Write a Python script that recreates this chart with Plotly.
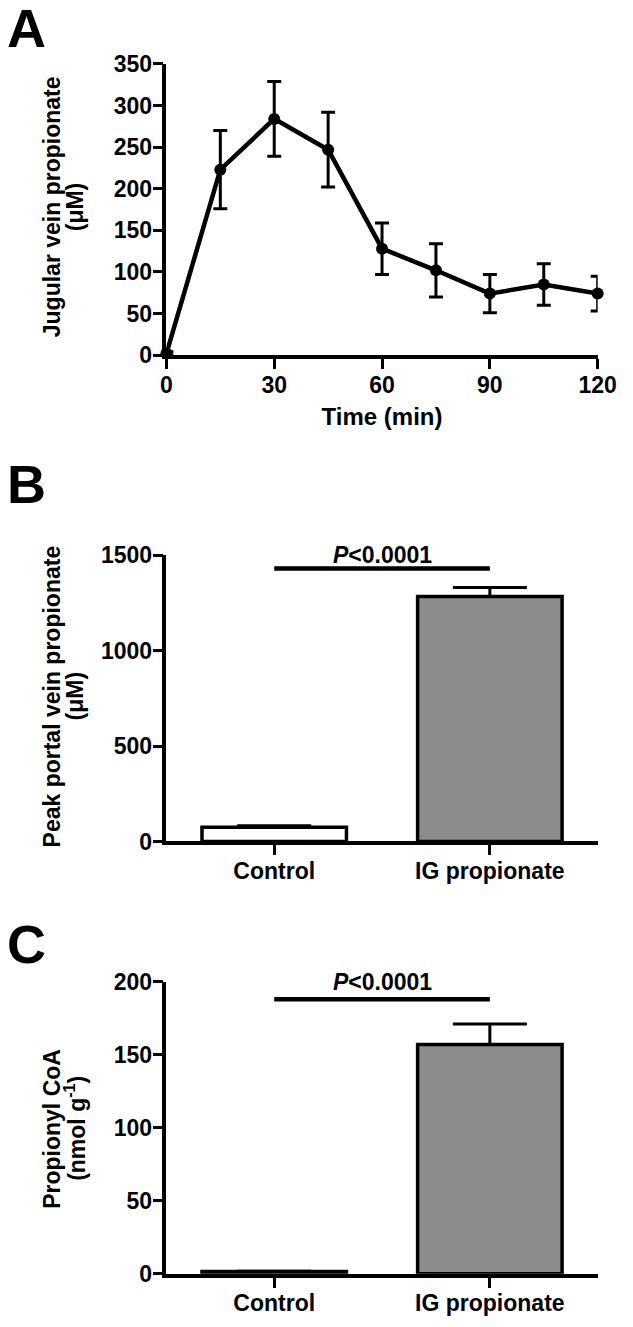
import plotly.graph_objects as go

# Panel A: jugular vein propionate time course (mean +/- SEM)
time_min = [0, 15, 30, 45, 60, 75, 90, 105, 120]
jugular = [2, 223, 284, 247, 128, 102, 74, 85, 74]
jugular_sem = [2, 47, 45, 45, 31, 32, 23, 25, 21]

# Panels B and C: bar charts
groups = ["Control", "IG propionate"]
portal_peak = [74, 1283]
portal_sem = [8, 48]
portal_sig_y = 1430
propionyl_coa = [1.5, 157]
propionyl_sem = [0.3, 14]
coa_sig_y = 188
p_text = "<i>P</i>&lt;0.0001"
bar_colors = ["white", "#8c8c8c"]

W, H = 633, 1327
FONT = "Liberation Sans"


def px_x(x):
    return x / W


def px_y(y):
    return 1 - y / H


fig = go.Figure()

# panel A
fig.add_trace(go.Scatter(
    x=time_min, y=jugular, mode="lines+markers",
    line=dict(color="black", width=4.5),
    marker=dict(color="black", size=12),
    error_y=dict(type="data", array=jugular_sem, color="black", thickness=3, width=7),
    cliponaxis=False, xaxis="x", yaxis="y", showlegend=False))

# panel B
fig.add_trace(go.Bar(
    x=groups, y=portal_peak, width=0.67,
    marker=dict(color=bar_colors, line=dict(color="black", width=3.5)),
    error_y=dict(type="data", symmetric=False, array=portal_sem, arrayminus=[0, 0],
                 color="black", thickness=3, width=37),
    cliponaxis=False, xaxis="x2", yaxis="y2", showlegend=False))
fig.add_trace(go.Scatter(
    x=groups, y=[portal_sig_y, portal_sig_y], mode="lines",
    line=dict(color="black", width=4.5),
    xaxis="x2", yaxis="y2", showlegend=False, cliponaxis=False))

# panel C
fig.add_trace(go.Bar(
    x=groups, y=propionyl_coa, width=0.67,
    marker=dict(color=bar_colors, line=dict(color="black", width=3.5)),
    error_y=dict(type="data", symmetric=False, array=propionyl_sem, arrayminus=[0, 0],
                 color="black", thickness=3, width=37),
    cliponaxis=False, xaxis="x3", yaxis="y3", showlegend=False))
fig.add_trace(go.Scatter(
    x=groups, y=[coa_sig_y, coa_sig_y], mode="lines",
    line=dict(color="black", width=4.5),
    xaxis="x3", yaxis="y3", showlegend=False, cliponaxis=False))

xdom = [px_x(167), px_x(616)]


def ydom(bottom_px, top_px):
    return [px_y(bottom_px), px_y(top_px)]


axis_style = dict(
    showline=True, linecolor="black", linewidth=3.5,
    ticks="outside", ticklen=10, tickwidth=3, tickcolor="black",
    showgrid=False, zeroline=False, ticklabeloverflow="allow",
    ticklabelstandoff=-4,
    tickfont=dict(family=FONT, size=23, color="black", weight="bold"),
)

fig.update_layout(
    width=W, height=H, autosize=False,
    margin=dict(l=0, r=0, t=0, b=0),
    paper_bgcolor="white", plot_bgcolor="white",
    xaxis=dict(domain=xdom, anchor="y", range=[0, 120], tickvals=[0, 30, 60, 90, 120],
               title=dict(text="Time (min)", standoff=13,
                          font=dict(family=FONT, size=24, color="black", weight="bold")),
               **axis_style),
    yaxis=dict(domain=ydom(349, 52), anchor="x", range=[0, 350], dtick=50, **axis_style),
    xaxis2=dict(domain=xdom, anchor="y2", type="category", range=[-0.5, 1.5], **axis_style),
    yaxis2=dict(domain=ydom(845, 553), anchor="x2", range=[0, 1500], dtick=500, **axis_style),
    xaxis3=dict(domain=xdom, anchor="y3", type="category", range=[-0.5, 1.5], **axis_style),
    yaxis3=dict(domain=ydom(1286, 988), anchor="x3", range=[0, 200], dtick=50, **axis_style),
)

title_font = dict(family=FONT, size=23, color="black", weight="bold")
ytitles = [
    ("Jugular vein propionate", "(μM)", 198),
    ("Peak portal vein propionate", "(μM)", 697),
    ("Propionyl CoA", "(nmol g<sup>-1</sup>)", 1138),
]
for line1, line2, ypx in ytitles:
    for text, xpx in [(line1, 48), (line2, 72)]:
        fig.add_annotation(text=text, textangle=-90, xref="paper", yref="paper",
                           x=px_x(xpx), y=px_y(ypx), xanchor="center", yanchor="middle",
                           showarrow=False, font=title_font)

# panel letters
for letter, ypx in [("A", 15), ("B", 480), ("C", 950)]:
    fig.add_annotation(text=letter, xref="paper", yref="paper", x=px_x(21), y=px_y(ypx),
                       xanchor="center", yanchor="middle", showarrow=False,
                       font=dict(family=FONT, size=54, color="black", weight="bold"))

# significance labels
fig.add_annotation(text=p_text, xref="x2", yref="y2", x=0.5, y=1500, showarrow=False,
                   yanchor="middle", font=dict(family=FONT, size=23, color="black", weight="bold"))
fig.add_annotation(text=p_text, xref="x3", yref="y3", x=0.5, y=200, showarrow=False,
                   yanchor="middle", font=dict(family=FONT, size=23, color="black", weight="bold"))

# no page margin and no scrollbars, so the figure fills the window exactly
page_css = ("document.body.style.margin='0';"
            "document.body.style.overflow='hidden';"
            "document.documentElement.style.overflow='hidden';")
fig.write_html("out.html", config={"displayModeBar": False, "responsive": False},
               post_script=page_css)
